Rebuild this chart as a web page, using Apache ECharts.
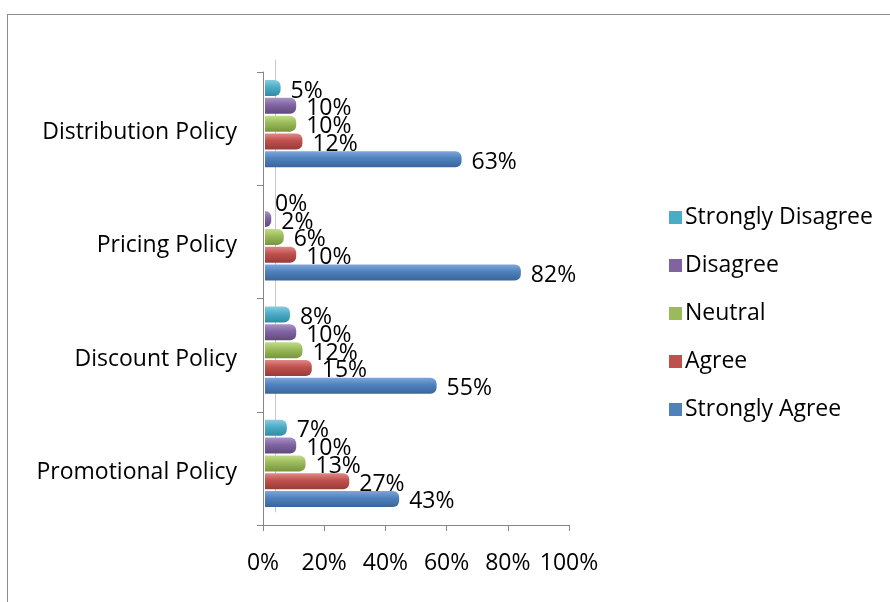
<!DOCTYPE html>
<html>
<head>
<meta charset="utf-8">
<script src="https://cdn.jsdelivr.net/npm/echarts@6/dist/echarts.min.js"></script>
<style>
html,body{margin:0;padding:0;background:#fff;overflow:hidden;}
#frame{position:absolute;left:7px;top:14px;width:1000px;height:800px;border:1.5px solid #8c8c8c;box-sizing:border-box;}
#chart{position:absolute;left:0;top:0;width:890px;height:602px;}
</style>
</head>
<body>
<div id="frame"></div>
<div id="chart"></div>
<script>
const categories = ['Promotional Policy', 'Discount Policy', 'Pricing Policy', 'Distribution Policy'];
const seriesNames = ['Strongly Agree', 'Agree', 'Neutral', 'Disagree', 'Strongly Disagree'];
const stronglyAgree = [43, 55, 82, 63];
const agree = [27, 15, 10, 12];
const neutral = [13, 12, 6, 10];
const disagree = [10, 10, 2, 10];
const stronglyDisagree = [7, 8, 0, 5];
const xTicks = [0, 20, 40, 60, 80, 100];
const legendOrder = ['Strongly Disagree', 'Disagree', 'Neutral', 'Agree', 'Strongly Agree'];

const values = [stronglyAgree, agree, neutral, disagree, stronglyDisagree];
const palette = [
  ['#7ea6dc', '#4f81bd', '#3a659b'],
  ['#e08a87', '#c0504d', '#973c3a'],
  ['#c3dc8c', '#9bbb59', '#779540'],
  ['#a993c6', '#8064a2', '#5f4a7c'],
  ['#86cde0', '#4bacc6', '#318ba3']
];
const FONT = 'Open Sans';
const FS = 23;

const chart = echarts.init(document.getElementById('chart'));
// ECharts lays out series of a horizontal group top-down, so add them reversed
// to put "Strongly Agree" at the bottom of each group as in the reference.
const order = [4, 3, 2, 1, 0];
const series = order.map(i => ({
  name: seriesNames[i],
  type: 'bar',
  xAxisIndex: 2,
  yAxisIndex: 2,
  data: values[i],
  barWidth: 16,
  barGap: '11%',
  itemStyle: {
    color: {
      type: 'linear', x: 0, y: 0, x2: 0, y2: 1,
      colorStops: [
        { offset: 0, color: palette[i][0] },
        { offset: 0.45, color: palette[i][1] },
        { offset: 1, color: palette[i][2] }
      ]
    },
    borderRadius: [0, 6, 6, 0]
  },
  label: {
    show: true,
    position: 'right',
    distance: 10,
    offset: [0, 3],
    formatter: p => p.value + '%',
    color: '#000',
    fontFamily: FONT,
    fontSize: FS
  }
}));

chart.setOption({
  animation: false,
  backgroundColor: 'transparent',
  grid: [
    // front (displayed) axes
    { left: 263, right: 321, top: 72, bottom: 77, containLabel: false },
    // back wall of the 3D plot
    { left: 275, right: 315, top: 60, bottom: 90, containLabel: false },
    // bars sit half way into the 3D depth
    { left: 265, right: 313, top: 67, bottom: 82, containLabel: false }
  ],
  legend: {
    data: legendOrder.map(n => ({ name: n, itemStyle: { color: palette[seriesNames.indexOf(n)][1] } })),
    orient: 'vertical',
    left: 664,
    top: 201,
    itemWidth: 13,
    itemHeight: 13,
    itemGap: 25,
    icon: 'rect',
    textStyle: { fontFamily: FONT, fontSize: FS, color: '#000', padding: [0, 0, 0, -2] }
  },
  xAxis: [
    {
      gridIndex: 0,
      type: 'value',
      min: 0,
      max: 100,
      interval: 20,
      axisLine: { show: true, lineStyle: { color: '#868686', width: 1 } },
      axisTick: { show: true, length: 6, lineStyle: { color: '#868686' } },
      splitLine: { show: false },
      axisLabel: {
        margin: 27,
        formatter: v => xTicks.includes(v) ? v + '%' : '',
        color: '#000',
        fontFamily: FONT,
        fontSize: FS
      }
    },
    { gridIndex: 1, type: 'value', min: 0, max: 100, show: false },
    { gridIndex: 2, type: 'value', min: 0, max: 100, show: false }
  ],
  yAxis: [
    {
      gridIndex: 0,
      type: 'category',
      data: categories,
      axisLine: { show: true, lineStyle: { color: '#868686', width: 1 } },
      axisTick: { show: true, length: 6, lineStyle: { color: '#868686' } },
      axisLabel: {
        margin: 26,
        formatter: v => '{a|' + v + '}',
        rich: { a: { padding: [8, 0, 0, 0], color: '#000', fontFamily: FONT, fontSize: FS } },
        color: '#000', fontFamily: FONT, fontSize: FS
      }
    },
    {
      gridIndex: 1,
      type: 'category',
      data: categories,
      axisLine: { show: true, lineStyle: { color: '#c8c8c8', width: 1 } },
      axisTick: { show: false },
      axisLabel: { show: false },
      splitLine: { show: false }
    },
    {
      gridIndex: 2,
      type: 'category',
      data: categories,
      show: false
    }
  ],
  series: series
});
</script>
</body>
</html>
